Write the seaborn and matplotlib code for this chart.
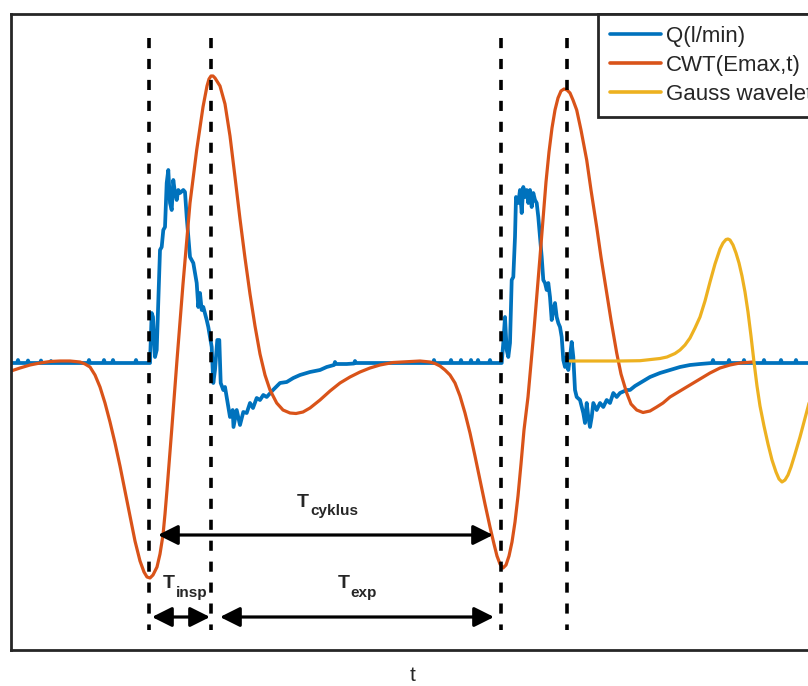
import matplotlib
matplotlib.use("Agg")
import matplotlib.pyplot as plt
import seaborn as sns
import pandas as pd

# ---------------- data ----------------
q_t = [11, 17, 18, 19, 27, 28, 29, 40, 41, 42, 50, 51, 52, 88, 89, 90, 103, 104, 105, 112, 113, 114, 135, 136, 137, 150,
       151.7, 153, 155, 156.7, 160, 161.7, 163.3, 165, 166.7, 168.3, 170, 171.7, 173.3, 175, 176.7, 178.3, 180, 183.3, 185,
       186.7, 190, 193.3, 196.7, 198.3, 200, 201.7, 203.3, 206.7, 208.3, 210, 211.7, 213.3, 215, 217.3, 219.3, 220.7, 223.3,
       225, 226.7, 230, 232.7, 233.5, 236.7, 240, 243.3, 246.7, 250, 253, 256.7, 260, 263.3, 266.7, 273, 280, 286.7, 293.3,
       300, 310, 320, 326.7, 334, 335, 336, 346.7, 354, 355, 356, 373, 433, 434, 435, 450, 451, 452, 460, 461, 462, 470, 471,
       472, 477, 478, 479, 489, 490, 491, 501.7,
       503.3, 505, 506.7, 508.3, 510, 511.7, 513.3, 515, 516, 518.3, 520, 521.7, 523.3, 525, 526.7, 528.3, 530, 531.7, 533.3,
       535, 536.7, 538.3, 540, 541.7, 543.3, 545, 546.7, 548.3, 550, 551.7, 553.3, 555, 556.7, 558.3, 560, 561.7, 563.3, 565,
       566.7, 568.3, 570, 571.7, 573.3, 575, 576.7, 580, 583.3, 585, 586.7, 588.3, 590, 591.7, 593.3, 596.7, 600, 603.3,
       606.7, 610, 613.3, 616.7, 620, 626.7, 630, 635, 640, 645, 650, 655, 660, 670, 680, 690, 700, 712, 713, 714, 720, 728,
       729, 730, 743, 744, 745, 763, 764, 765, 780, 781, 782, 795, 796, 797, 815]
q_val = [-1, -1, 2, -1, -1, 1.5, -1, -1, 1.5, -1, -1, 1, -1, -1, 2, -1, -1, 2, -1, -1, 2, -1, -1, 2, -1, -1,
         49, 45, 5, 12, 112, 115, 132, 135, 179, 192, 159, 152, 182, 169, 162, 172, 169, 172, 170,
         145, 105, 99, 79, 55, 69, 52, 55, 42, 35, 25, 15, -21, -8, 22, 22, -21, -28,
         -25, -35, -55, -48, -65, -48, -63, -50, -51, -41, -46, -36, -38, -33, -35, -28, -21, -20, -16,
         -13, -10, -8, -5, -3, 0, -2, -2, -1.5, 1, -1, -1, -1, 2, -1, -1, 2, -1, -1, 2, -1, -1, 2,
         -1, -1, 2, -1, -1, 2, -1, -1,
         19, 45, 12, 5, 19, 82, 85, 125, 165, 159, 172, 149, 175, 165, 172, 159, 172, 155, 169,
         162, 159, 145, 125, 105, 82, 79, 72, 79, 65, 42, 52, 59, 45, 39, 35, 25, 2, -5,
         5, -8, 5, 20, 5, -28, -35, -38, -51, -61, -41, -55, -65, -55, -41, -48, -41, -45,
         -38, -41, -31, -35, -31, -28, -28, -24, -21, -18, -15, -13, -11, -8, -5, -3, -2, -1, 2, -1, -1, -1,
         2, -1, -1, 2, -1, -1, 2, -1, -1, 2, -1, -1, 2, -1, -1]

cwt_t = [11, 20, 30, 40, 50, 60, 70, 80, 85, 90, 95, 100, 105, 110, 115, 120, 125, 130, 135, 140, 144, 147, 150, 153,
         157, 160, 163, 165, 167, 171.7, 177, 183, 190, 196.7, 203, 207, 209, 211, 213, 215, 220, 225, 230, 235, 240,
         245, 250, 255, 260, 265, 270, 276.7, 283, 290, 296, 303, 310, 320, 330, 340, 350, 360, 370, 380, 393, 406.7,
         420, 430, 435, 440, 445, 450, 455, 460, 465, 470, 475, 480, 485, 490, 494, 497, 500, 503, 506, 509, 512, 515,
         518, 521, 524, 528, 531, 534, 537, 540, 543, 546, 549, 552, 555, 558, 561, 564, 567, 570, 573, 576.7, 581,
         586.7, 591, 596.7, 601, 606.7, 611, 616.7, 621, 626.7, 631, 636.7, 643, 650, 656.7, 663, 670, 680, 690, 700,
         710, 720, 730, 740, 753]
cwt_val = [-9, -6, -3, -1, 0.5, 1, 1, 0, -2, -5, -13, -25, -41, -60, -81, -104, -129, -154, -179, -199, -210, -215,
           -216, -213, -205, -192, -173, -152, -128, -68, 2, 78, 159, 212, 255, 276, 283, 286, 286, 284, 276, 258,
           226, 185, 143, 104, 68, 36, 8, -13, -28, -41, -48, -51, -51.5, -50, -46, -38, -29, -21, -15, -10, -6, -3,
           -0.5, 0.3, 1, 0, -1.5, -4, -8, -13, -21, -34, -51, -71, -94, -118, -142, -165, -182, -194, -202, -206,
           -203, -194, -180, -160, -134, -102, -68, -35, -2, 32, 68, 105, 143, 180, 210, 234, 252, 264, 271, 273,
           272, 269, 262, 252, 232, 202, 172, 135, 105, 69, 42, 9, -12, -31, -42, -48, -50.5, -49, -45, -41, -35,
           -29, -23, -17, -11, -6, -3, -1, 0]

gauss_t = [570, 600, 620, 640, 660, 667, 675, 680, 685, 690, 695, 700, 705, 710, 715, 720, 723, 726, 728, 730, 733,
           736, 739, 742, 745, 748, 751, 754, 757, 760, 764, 768, 772, 776, 779, 782, 785, 788, 791, 795, 800, 804,
           808, 815]
gauss_val = [1, 1, 1, 1.3, 3.5, 5, 8.5, 12, 17, 24, 34, 45, 61, 80, 98, 113, 119, 122.5, 123, 122, 117,
             109, 99, 86, 70, 50, 26, 0, -24, -44, -64, -82, -98, -110, -117, -120, -118, -113, -105, -92, -75, -60,
             -45, -18]

event_t = [149, 211, 501, 567]
legend_labels = ["Q(l/min)", "CWT(Emax,t)", "Gauss wavelet"]

# ---------------- style ----------------
sns.set_style("white")
plt.rcParams["font.family"] = ["Liberation Sans", "DejaVu Sans"]

W, H = 808, 686
fig = plt.figure(figsize=(W / 100, H / 100), dpi=100)
ax = fig.add_axes([11 / W, 1 - 650 / H, (815 - 11) / W, (650 - 14) / H])

blue, orange, yellow = "#0072BD", "#D95319", "#EDB120"

sns.lineplot(data=pd.DataFrame({"t": q_t, "v": q_val}), x="t", y="v", ax=ax, color=blue, lw=2.7,
             sort=False, estimator=None, label=legend_labels[0])
sns.lineplot(data=pd.DataFrame({"t": cwt_t, "v": cwt_val}), x="t", y="v", ax=ax, color=orange, lw=2.3,
             sort=False, estimator=None, label=legend_labels[1])
sns.lineplot(data=pd.DataFrame({"t": gauss_t, "v": gauss_val}), x="t", y="v", ax=ax, color=yellow, lw=2.3,
             sort=False, estimator=None, label=legend_labels[2])

for xe in event_t:
    ax.plot([xe, xe], [324, -268], color="black", lw=2.6, dashes=(2.8, 3.0), solid_capstyle="butt",
            dash_capstyle="butt", zorder=5)

ax.set_xlim(11, 815)
ax.set_ylim(-288, 348)
ax.set_xticks([])
ax.set_yticks([])
ax.set_xlabel("t", fontsize=15, labelpad=11.5)
ax.set_ylabel("")
for s in ax.spines.values():
    s.set_visible(True)
    s.set_color("#262626")
    s.set_linewidth(2)

# arrows (annotations)
arrow_kw = dict(arrowstyle="<|-|>,head_length=0.8,head_width=0.4", mutation_scale=15, lw=2.3, color="black",
                shrinkA=0, shrinkB=0)
for (x0, x1, yv) in [(158, 493, -173), (152, 210, -255), (220, 494, -255)]:
    ax.annotate("", xy=(x1, yv), xytext=(x0, yv), arrowprops=arrow_kw, zorder=6)

# labels T_cyklus, T_insp, T_exp
for (xT, yT, xs, ys, sub) in [(297, -145, 310, -153.5, "cyklus"), (163, -226, 175.5, -235, "insp"),
                              (338, -226, 350, -235, "exp")]:
    ax.text(xT, yT, "T", fontsize=14, fontweight="bold", ha="left", va="baseline")
    ax.text(xs, ys, sub, fontsize=11, fontweight="bold", ha="left", va="baseline")

leg = ax.legend(loc="upper left", bbox_to_anchor=(598 / W, 1 - 14 / H), bbox_transform=fig.transFigure,
                fontsize=16, frameon=True, fancybox=False, framealpha=1, edgecolor="#262626",
                handlelength=2.3, handletextpad=0.2, borderpad=0.55, labelspacing=0.36, borderaxespad=0)
leg.get_frame().set_linewidth(2)
for ln in leg.get_lines():
    ln.set_linewidth(2.6)

fig.savefig("out.png", dpi=100)
